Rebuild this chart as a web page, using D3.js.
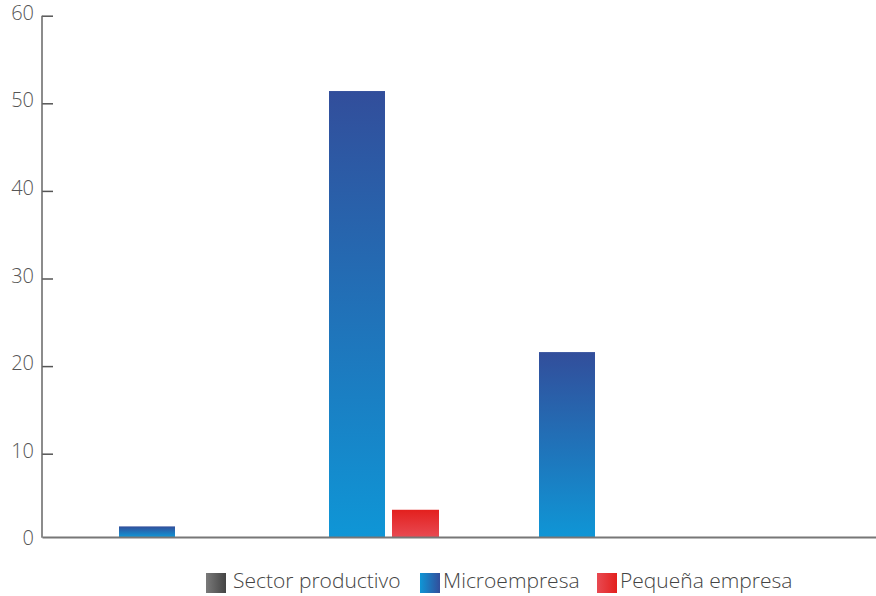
<!DOCTYPE html>
<html>
<head>
<meta charset="utf-8">
<script src="https://cdn.jsdelivr.net/npm/d3@7"></script>
<style>
  html, body { margin: 0; padding: 0; background: #fff; }
  svg { display: block; font-family: "Open Sans", "Noto Sans", sans-serif; }
</style>
</head>
<body>
<svg id="chart" width="876" height="596"></svg>
<script>
// ---- data ----
const categories = ["1", "2", "3", "4"];
const seriesNames = ["Sector productivo", "Microempresa", "Pequeña empresa"];
const sectorProductivo = [0, 0, 0, 0];
const microempresa = [1.7, 51.4, 21.6, 0];
const pequenaEmpresa = [0, 3.6, 0, 0];
const yTicks = [0, 10, 20, 30, 40, 50, 60];

const seriesValues = [sectorProductivo, microempresa, pequenaEmpresa];

// ---- layout ----
const svg = d3.select("#chart");
const axisX = 42;
const baseY = 537;

const y = d3.scaleLinear().domain([0, 60]).range([541.3, 15.7]);
const x0 = d3.scaleBand().domain(categories).range([42, 882]).paddingInner(0).paddingOuter(0);
const x1 = d3.scaleBand().domain(seriesNames).range([14, 196]).paddingInner(7 / 63).paddingOuter(0);
const widthFactor = { "Sector productivo": 1, "Microempresa": 1, "Pequeña empresa": 47 / 56 };

// ---- gradients ----
const defs = svg.append("defs");
function vgrad(id, top, bottom) {
  const g = defs.append("linearGradient").attr("id", id)
    .attr("x1", 0).attr("y1", 0).attr("x2", 0).attr("y2", 1);
  g.append("stop").attr("offset", "0%").attr("stop-color", top);
  g.append("stop").attr("offset", "100%").attr("stop-color", bottom);
}
function hgrad(id, left, right) {
  const g = defs.append("linearGradient").attr("id", id)
    .attr("x1", 0).attr("y1", 0).attr("x2", 1).attr("y2", 0);
  g.append("stop").attr("offset", "0%").attr("stop-color", left);
  g.append("stop").attr("offset", "100%").attr("stop-color", right);
}
vgrad("bar0", "#444444", "#7a7a7a");
vgrad("bar1", "#324e9b", "#0f96d6");
vgrad("bar2", "#e3201e", "#e84a52");
hgrad("leg0", "#7a7a7a", "#444444");
hgrad("leg1", "#0f96d6", "#324e9b");
hgrad("leg2", "#e84a52", "#e3201e");

// ---- bars ----
const rows = [];
categories.forEach((c, ci) => {
  seriesNames.forEach((s, si) => {
    rows.push({ cat: c, series: s, si: si, value: seriesValues[si][ci] });
  });
});

svg.append("g").selectAll("rect")
  .data(rows.filter(d => d.value > 0))
  .join("rect")
  .attr("x", d => x0(d.cat) + x1(d.series))
  .attr("width", d => x1.bandwidth() * widthFactor[d.series])
  .attr("y", d => y(d.value))
  .attr("height", d => baseY - y(d.value))
  .attr("fill", d => `url(#bar${d.si})`);

// ---- y axis ----
const yAxis = d3.axisRight(y).tickValues(yTicks.filter(t => t > 0)).tickSize(11).tickFormat("");
const gy = svg.append("g").attr("transform", `translate(${axisX},0)`).call(yAxis);
gy.select(".domain").remove();
gy.selectAll(".tick line").attr("stroke", "#555").attr("stroke-width", 1.5);
svg.append("line")
  .attr("x1", axisX).attr("x2", axisX)
  .attr("y1", y(60)).attr("y2", baseY + 0.75)
  .attr("stroke", "#666").attr("stroke-width", 1.5);

svg.append("g").selectAll("text")
  .data(yTicks)
  .join("text")
  .attr("x", 34)
  .attr("y", d => y(d) - 3)
  .attr("dy", "0.35em")
  .attr("text-anchor", "end")
  .attr("font-size", 20)
  .attr("font-weight", 300)
  .attr("fill", "#555")
  .text(d => d);

// ---- x axis ----
const gx = svg.append("g").attr("transform", `translate(0,${baseY})`)
  .call(d3.axisBottom(x0).tickSize(0).tickFormat(""));
gx.select(".domain").attr("stroke", "#777").attr("stroke-width", 2);

// ---- legend ----
const legendX = [206, 420, 597];
const leg = svg.append("g");
seriesNames.forEach((s, i) => {
  leg.append("rect")
    .attr("x", legendX[i]).attr("y", 573)
    .attr("width", 20).attr("height", 20)
    .attr("fill", `url(#leg${i})`);
  leg.append("text")
    .attr("x", legendX[i] + (i === 0 ? 27 : 23)).attr("y", 588)
    .attr("font-size", 21)
    .attr("font-weight", 300)
    .attr("fill", "#444")
    .text(s);
});
</script>
</body>
</html>
